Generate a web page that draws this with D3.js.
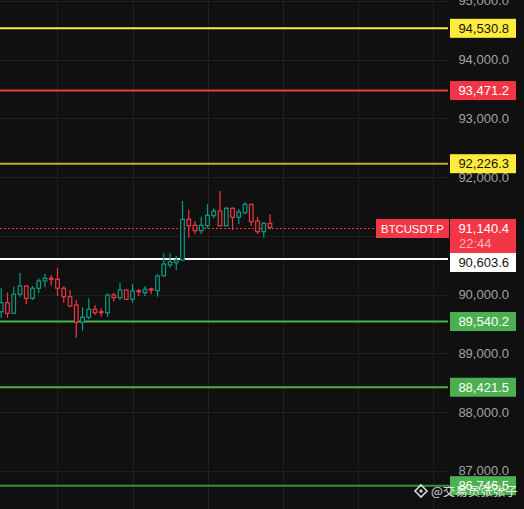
<!DOCTYPE html>
<html>
<head>
<meta charset="utf-8">
<script src="https://cdn.jsdelivr.net/npm/d3@7"></script>
<style>
  html, body { margin: 0; padding: 0; background: #101010; }
  svg { display: block; }
</style>
</head>
<body>
<svg id="chart" width="524" height="509"></svg>
<script>
// ---------------- DATA ----------------
const candleOpen  = [89707, 89860, 89680, 90003, 90145, 89935, 90106, 90230, 90276, 90259,
                     90106, 89963, 89821, 89527, 89612, 89748, 89707, 89690, 89991, 89946,
                     90077, 89918, 90065, 90031, 90094, 90065, 90320, 90502, 90541, 90587,
                     91280, 91178, 91086, 91171, 91341, 91421, 91171, 91467, 91314, 91392,
                     91535, 91251, 91069, 91212];
const candleHigh  = [90116, 90031, 90133, 90366, 90153, 90145, 90276, 90349, 90332, 90451,
                     90145, 90077, 89906, 89782, 89935, 89821, 89765, 90020, 90031, 90201,
                     90082, 90179, 90089, 90145, 90116, 90344, 90701, 90701, 90655, 91591,
                     91438, 91251, 91324, 91540, 91467, 91762, 91494, 91484, 91455, 91569,
                     91540, 91319, 91229, 91370];
const candleLow   = [89605, 89605, 89675, 89963, 89838, 89906, 90020, 90123, 90150, 89974,
                     89860, 89782, 89265, 89384, 89578, 89651, 89622, 89622, 89877, 89906,
                     89911, 89860, 89974, 89974, 90009, 89963, 90303, 90456, 90417, 90575,
                     90967, 91030, 91030, 91127, 91297, 91166, 91166, 91098, 91200, 91365,
                     91166, 91030, 90967, 91110];
const candleClose = [89860, 89680, 90003, 90145, 89935, 90106, 90230, 90276, 90259, 90106,
                     89963, 89804, 89527, 89612, 89748, 89690, 89702, 89991, 89946, 90077,
                     89918, 90060, 90060, 90089, 90082, 90315, 90519, 90553, 90587, 91280,
                     91171, 91086, 91178, 91348, 91421, 91171, 91467, 91314, 91404, 91535,
                     91239, 91069, 91212, 91140.4];

const tickValues  = [87000, 88000, 89000, 90000, 91000, 92000, 93000, 94000, 95000];
const levelValues = [94530.8, 93471.2, 92226.3, 90603.6, 89540.2, 88421.5, 86746.5];
const symbolName  = "BTCUSDT.P";
const lastPrice   = 91140.4;
const countdown   = "22:44";
const watermark   = "@交易员张张子";

// ---------------- STYLES ----------------
const levelStyles = [
  { line: "#ffeb3b", box: "#ffeb3b", text: "#131313" },
  { line: "#f23645", box: "#f23645", text: "#ffffff" },
  { line: "#c4ad2c", box: "#ffeb3b", text: "#131313" },
  { line: "#ffffff", box: "#ffffff", text: "#131313" },
  { line: "#4caf50", box: "#4caf50", text: "#ffffff" },
  { line: "#4caf50", box: "#4caf50", text: "#ffffff" },
  { line: "#3e8e41", box: "#4caf50", text: "#ffffff" }
];
const UP = "#0b9c83", DOWN = "#f23645", BG = "#101010", GRID = "#1f1f1f";

// ---------------- LAYOUT ----------------
const W = 524, H = 509, plotRight = 448;
const svg = d3.select("#chart");
svg.append("rect").attr("width", W).attr("height", H).attr("fill", BG);

const x = d3.scaleLinear().domain([-0.2, 71.48]).range([0, plotRight]);
const y = d3.scaleLinear().domain([90000, 94000]).range([294.5, 59.5]);

const curTop = 219, curH = 34;

// grid
const gridIdx = [9, 21, 33, 45, 57, 69];
svg.append("g").selectAll("line").data(gridIdx).join("line")
  .attr("x1", d => Math.round(x(d)) + 0.5).attr("x2", d => Math.round(x(d)) + 0.5)
  .attr("y1", 0).attr("y2", H)
  .attr("stroke", GRID).attr("stroke-width", 1);
svg.append("g").selectAll("line").data(tickValues).join("line")
  .attr("x1", 0).attr("x2", plotRight)
  .attr("y1", d => Math.round(y(d)) + 0.5).attr("y2", d => Math.round(y(d)) + 0.5)
  .attr("stroke", GRID).attr("stroke-width", 1);

// axis tick labels (labels fully hidden behind the current-price box are not drawn)
const shownTicks = tickValues.filter(v => !(y(v) > curTop + 6 && y(v) < curTop + curH - 6));
const axis = d3.axisRight(y).tickValues(shownTicks).tickSize(0).tickPadding(0)
  .tickFormat(d3.format(",.1f"));
const gAxis = svg.append("g").attr("transform", `translate(${plotRight},0)`).call(axis);
gAxis.select(".domain").remove();
gAxis.selectAll("text")
  .attr("x", 61).attr("text-anchor", "end")
  .attr("fill", "#a3a3a3")
  .style("font-family", "'Liberation Sans', Arial, sans-serif")
  .style("font-size", "13px");

// level lines
svg.append("g").selectAll("line").data(levelValues).join("line")
  .attr("x1", 0).attr("x2", plotRight)
  .attr("y1", d => y(d)).attr("y2", d => y(d))
  .attr("stroke", (d, i) => levelStyles[i].line).attr("stroke-width", 2);

// last price dotted line
const ly = Math.round(y(lastPrice)) + 0.5;
svg.append("line").attr("x1", 0).attr("x2", 376).attr("y1", ly).attr("y2", ly)
  .attr("stroke", DOWN).attr("stroke-width", 1).attr("stroke-dasharray", "2,2");

// candles
const candles = candleOpen.map((o, i) => ({ i, o, h: candleHigh[i], l: candleLow[i], c: candleClose[i] }));
const gC = svg.append("g");
const cg = gC.selectAll("g").data(candles).join("g");
cg.append("line")
  .attr("x1", d => x(d.i)).attr("x2", d => x(d.i))
  .attr("y1", d => y(d.h)).attr("y2", d => y(d.l))
  .attr("stroke", d => d.c >= d.o ? UP : DOWN).attr("stroke-width", 1.2);
cg.append("rect")
  .attr("x", d => x(d.i) - 1.8).attr("width", 3.6)
  .attr("y", d => y(Math.max(d.o, d.c)))
  .attr("height", d => Math.max(1, Math.abs(y(d.o) - y(d.c))))
  .attr("fill", BG)
  .attr("stroke", d => d.c >= d.o ? UP : DOWN).attr("stroke-width", 1.2);

// level boxes (white box pushed below current price box)
const font = "'Liberation Sans', Arial, sans-serif";
const boxX = 450, boxW = 66, boxH = 19;
const gB = svg.append("g");
levelValues.forEach((v, i) => {
  let cy = y(v);
  let top = cy - boxH / 2;
  if (top < curTop + curH && top + boxH > curTop) top = curTop + curH;
  gB.append("rect").attr("x", boxX).attr("y", top).attr("width", boxW).attr("height", boxH)
    .attr("fill", levelStyles[i].box);
  gB.append("text").attr("x", 509).attr("y", top + boxH / 2).attr("dy", "0.36em")
    .attr("text-anchor", "end").attr("fill", levelStyles[i].text)
    .style("font-family", font).style("font-size", "13px")
    .text(d3.format(",.1f")(v));
});

// current price box
gB.append("rect").attr("x", boxX).attr("y", curTop).attr("width", boxW).attr("height", curH)
  .attr("fill", DOWN);
gB.append("text").attr("x", 509).attr("y", 228).attr("dy", "0.36em")
  .attr("text-anchor", "end").attr("fill", "#ffffff")
  .style("font-family", font).style("font-size", "13px")
  .text(d3.format(",.1f")(lastPrice));
gB.append("text").attr("x", 459).attr("y", 243.5).attr("dy", "0.36em")
  .attr("fill", "#f9b4bb")
  .style("font-family", font).style("font-size", "13px")
  .text(countdown);

// symbol box
gB.append("rect").attr("x", 376).attr("y", curTop).attr("width", 73).attr("height", 19)
  .attr("fill", DOWN);
gB.append("text").attr("x", 412.5).attr("y", curTop + 9.5).attr("dy", "0.36em")
  .attr("text-anchor", "middle").attr("fill", "#ffffff")
  .style("font-family", font).style("font-size", "11.3px")
  .text(symbolName);

// watermark
const wm = svg.append("g").attr("opacity", 0.82);
const ix = 421, iy = 491;
wm.append("path")
  .attr("d", `M${ix},${iy-6} L${ix+6},${iy} L${ix},${iy+6} L${ix-6},${iy} Z`)
  .attr("fill", "none").attr("stroke", "#ffffff").attr("stroke-width", 1.6);
wm.append("path")
  .attr("d", `M${ix},${iy-2} L${ix+2},${iy} L${ix},${iy+2} L${ix-2},${iy} Z`)
  .attr("fill", "#ffffff");
wm.append("text").attr("x", 431).attr("y", 491).attr("dy", "0.36em")
  .attr("fill", "#ffffff")
  .style("font-family", "'Noto Sans CJK SC', sans-serif").style("font-size", "12.5px")
  .text(watermark);
</script>
</body>
</html>
